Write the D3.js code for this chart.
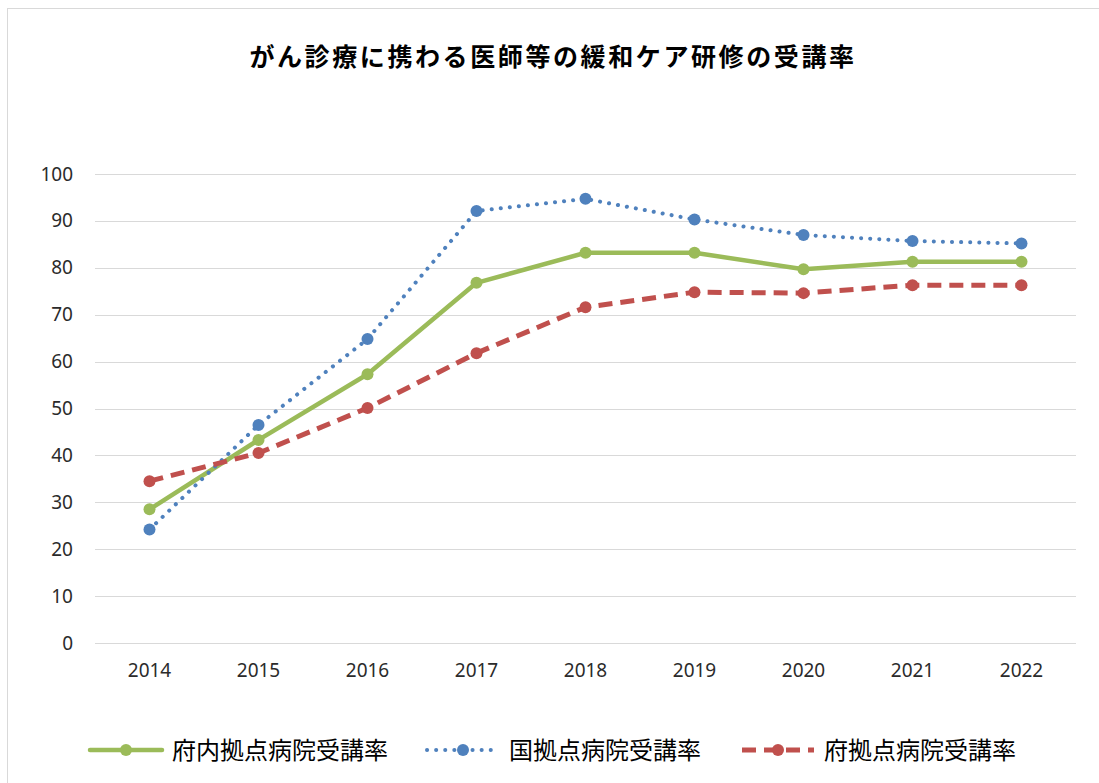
<!DOCTYPE html>
<html>
<head>
<meta charset="utf-8">
<script src="https://cdn.jsdelivr.net/npm/d3@7"></script>
<style>
  body { margin: 0; background: #fff; }
  svg { display: block; font-family: "Noto Sans CJK JP", "Noto Sans", sans-serif; }
</style>
</head>
<body>
<div id="chart"></div>
<script>
// data
let years = ["2014", "2015", "2016", "2017", "2018", "2019", "2020", "2021", "2022"];
let funaiRate = [28.5, 43.3, 57.3, 76.8, 83.2, 83.2, 79.7, 81.3, 81.3];
let kuniRate = [24.2, 46.5, 64.8, 92.1, 94.7, 90.3, 87.0, 85.7, 85.2];
let fuRate = [34.5, 40.5, 50.1, 61.8, 71.6, 74.8, 74.6, 76.3, 76.3];
let seriesNames = ["府内拠点病院受講率", "国拠点病院受講率", "府拠点病院受講率"];
let yTicks = [0, 10, 20, 30, 40, 50, 60, 70, 80, 90, 100];
let title = "がん診療に携わる医師等の緩和ケア研修の受講率";

//define size
let svgWidth = 1099;
let svgHeight = 783;
let plot = { left: 95, right: 1076, top: 174, bottom: 643 };

let svg = d3.select("#chart")
    .append("svg")
    .attr("width", svgWidth)
    .attr("height", svgHeight);

//outer frame of the chart
svg.append("rect")
    .attr("x", 7.5).attr("y", 8.5)
    .attr("width", 1110).attr("height", 800)
    .attr("fill", "#fff")
    .attr("stroke", "#d9d9d9");

//title
svg.append("text")
    .attr("x", 553).attr("y", 66)
    .attr("text-anchor", "middle")
    .style("font-size", "25px")
    .style("font-weight", "bold")
    .style("letter-spacing", "2.6px")
    .attr("fill", "#000")
    .text(title);

//scales
let x = d3.scaleBand().domain(years).range([plot.left, plot.right]);
let y = d3.scaleLinear().domain([0, 100]).range([plot.bottom, plot.top]);
let cx = function(d, i) { return x(years[i]) + x.bandwidth() / 2; };

//gridlines
svg.append("g")
    .selectAll("line")
    .data(yTicks)
    .enter()
    .append("line")
    .attr("x1", plot.left).attr("x2", plot.right)
    .attr("y1", function(d) { return Math.round(y(d)) + 0.5; })
    .attr("y2", function(d) { return Math.round(y(d)) + 0.5; })
    .attr("stroke", "#d9d9d9")
    .attr("stroke-width", 1);

//y axis labels
let yAxis = d3.axisLeft(y).tickValues(yTicks).tickSize(0).tickPadding(0);
svg.append("g")
    .attr("transform", "translate(73,0)")
    .call(yAxis)
    .call(function(g) { g.select(".domain").remove(); })
    .selectAll("text")
    .attr("fill", "#2b2b2b")
    .style("font-family", "'Noto Sans', 'DejaVu Sans', sans-serif")
    .style("font-size", "19px");

//x axis labels
let xAxis = d3.axisBottom(x).tickSize(0).tickPadding(0);
svg.append("g")
    .attr("transform", "translate(0," + 663 + ")")
    .call(xAxis)
    .call(function(g) { g.select(".domain").remove(); })
    .selectAll("text")
    .attr("fill", "#2b2b2b")
    .style("font-family", "'Noto Sans', 'DejaVu Sans', sans-serif")
    .style("font-size", "19px");

let series = [
    { name: seriesNames[0], values: funaiRate, color: "#9bbb59", width: 4.5, dash: null, cap: "round" },
    { name: seriesNames[1], values: kuniRate, color: "#4f81bd", width: 4, dash: "0.1,9", cap: "round" },
    { name: seriesNames[2], values: fuRate, color: "#c0504d", width: 5, dash: "14,8", cap: "butt" }
];

let line = d3.line()
    .x(cx)
    .y(function(d) { return y(d); });

//draw lines and markers
series.forEach(function(s, k) {
    svg.append("path")
        .attr("d", line(s.values))
        .attr("fill", "none")
        .attr("stroke", s.color)
        .attr("stroke-width", s.width)
        .attr("stroke-dasharray", s.dash)
        .attr("stroke-linecap", s.cap)
        .attr("stroke-linejoin", "round");

    svg.selectAll("circle.m" + k)
        .data(s.values)
        .enter()
        .append("circle")
        .attr("class", "m" + k)
        .attr("cx", cx)
        .attr("cy", function(d) { return y(d); })
        .attr("r", 6)
        .attr("fill", s.color);
});

//legend
let legendX = [90, 427, 742];
let legendY = 750;
series.forEach(function(s, i) {
    let g = svg.append("g").attr("transform", "translate(" + legendX[i] + "," + legendY + ")");
    g.append("line")
        .attr("x1", 0).attr("x2", 72)
        .attr("stroke", s.color)
        .attr("stroke-width", s.width)
        .attr("stroke-dasharray", s.dash)
        .attr("stroke-linecap", s.cap);
    g.append("circle")
        .attr("cx", 36).attr("r", 6)
        .attr("fill", s.color);
    g.append("text")
        .attr("x", 82)
        .attr("dy", "0.36em")
        .style("font-size", "24px")
        .attr("fill", "#000")
        .text(s.name);
});
</script>
</body>
</html>
